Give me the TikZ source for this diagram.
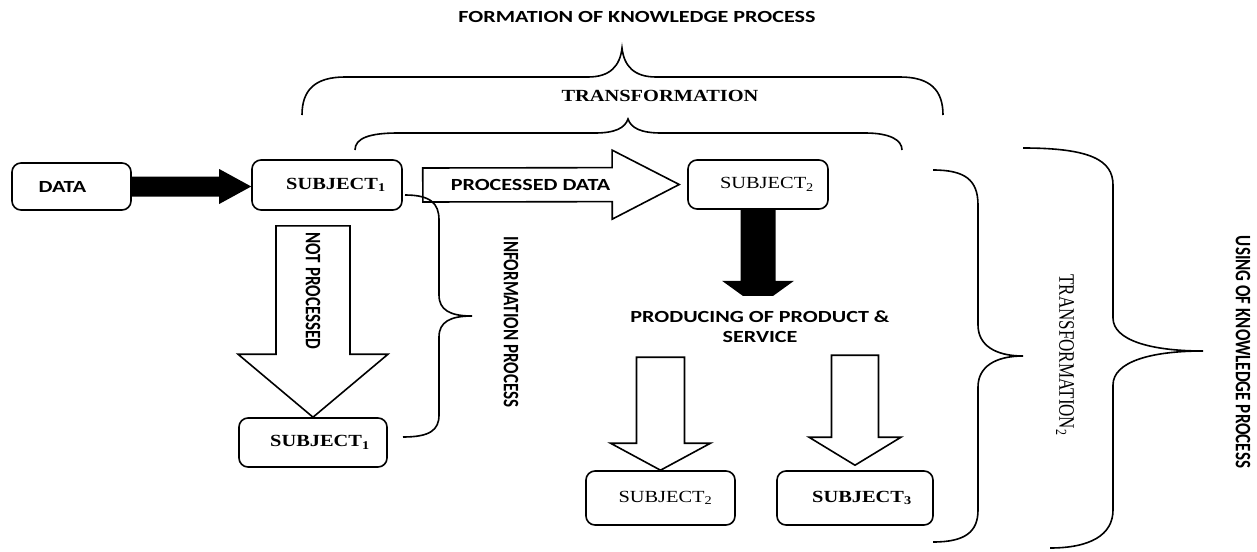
\documentclass[tikz,border=0pt]{standalone}
\usepackage{fontspec}
\setmainfont{Liberation Serif}
\newfontfamily\calibfont{Carlito}
\usetikzlibrary{calc}
\newcommand{\wide}[2][1.3]{\scalebox{#1}[1]{#2}}
\newcommand{\tall}[1]{\scalebox{1}[1.3]{#1}}
% #1 style, #2 tail, #3 tip, #4 half shaft, #5 half head, #6 head length
\newcommand{\blockarrow}[6]{%
  \path[#1] ($(#2)!#4!90:(#3)$)
    -- ($($(#3)!#6!(#2)$)!#4!90:(#3)$)
    -- ($($(#3)!#6!(#2)$)!#5!90:(#3)$)
    -- (#3)
    -- ($($(#3)!#6!(#2)$)!#5!-90:(#3)$)
    -- ($($(#3)!#6!(#2)$)!#4!-90:(#3)$)
    -- ($(#2)!#4!-90:(#3)$) -- cycle;}

\begin{document}
\begin{tikzpicture}[x=1pt, y=-1pt,
  box/.style={draw, line width=1.6pt, rounded corners=9pt, inner sep=0pt},
  sans/.style={font=\calibfont\bfseries\fontsize{17}{20}\selectfont},
  serif/.style={font=\fontsize{17}{20}\selectfont},
  hollow/.style={draw, fill=white, line width=1.6pt, line join=miter},
  blackarrow/.style={fill=black},
  curly/.style={draw, line width=1.6pt}]
\useasboundingbox (0,0) rectangle (1257,551);

\node[box, sans, minimum width=119pt, minimum height=47pt] (data) at (71.5,186.5) {\wide{DATA}\hspace*{18pt}};
\node[box, serif, minimum width=150pt, minimum height=50pt] (subjA) at (327,185) {\hspace*{18pt}\wide[1.2]{\textbf{SUBJECT\textsubscript{1}}}};
\node[box, serif, minimum width=140pt, minimum height=49pt] (subjB) at (758,184.5) {\hspace*{18pt}\wide[1.2]{SUBJECT\textsubscript{2}}};
\node[box, serif, minimum width=148pt, minimum height=49pt] (subjC) at (313,442.5) {\hspace*{14pt}\wide[1.2]{\textbf{SUBJECT\textsubscript{1}}}};
\node[box, serif, minimum width=149pt, minimum height=54pt] (subjD) at (660.5,498) {\hspace*{10pt}\wide[1.2]{SUBJECT\textsubscript{2}}};
\node[box, serif, minimum width=156pt, minimum height=54pt] (subjE) at (855,498) {\hspace*{14pt}\wide[1.2]{\textbf{SUBJECT\textsubscript{3}}}};

\coordinate (dataTip) at (data.east -| subjA.west);
\blockarrow{blackarrow}{data.east}{dataTip}{10pt}{17.5pt}{32pt}

\coordinate (procTail) at ($(subjA.east)+(20,0)$);
\coordinate (procTip) at ($(subjB.west)+(-8,0)$);
\blockarrow{hollow}{procTail}{procTip}{17pt}{34.5pt}{67pt}
\node[sans] (procText) at ($(procTail)!0.42!(procTip)$) {\wide{PROCESSED DATA}};

\coordinate (npTail) at ($(subjA.south -| subjC.north)+(0,15)$);
\blockarrow{hollow}{npTail}{subjC.north}{37pt}{75pt}{63pt}
\node[sans, rotate=-90] (npText) at ($(npTail)!0.34!(subjC.north)$) {\tall{NOT PROCESSED}};

\coordinate (prodTip) at ($(subjB.south)+(0,97)$);
\blockarrow{blackarrow}{subjB.south}{prodTip}{17.5pt}{36pt}{26pt}
\node[sans, align=center, fill=white, inner ysep=15pt] (prod) at (760,327)
  {\wide{PRODUCING OF PRODUCT \&}\\\wide{SERVICE}};

\coordinate (leftTail) at ($(subjD.north)+(0,-113)$);
\blockarrow{hollow}{leftTail}{subjD.north}{24pt}{50pt}{27pt}
\coordinate (rightTail) at ($(subjE.north)+(0,-115)$);
\coordinate (rightTip) at ($(subjE.north)+(0,-5)$);
\blockarrow{hollow}{rightTail}{rightTip}{23.5pt}{46pt}{28pt}

\node[sans] (formation) at (637,17) {\wide{FORMATION OF KNOWLEDGE PROCESS}};
\node[serif] (transf) at (660,96) {\wide[1.2]{\textbf{TRANSFORMATION}}};
\node[sans, rotate=-90] (info) at (511,322) {\tall{INFORMATION PROCESS}};
\node[serif, rotate=-90] (transfB) at (1065,355) {\tall{TRANSFORMATION\textsubscript{2}}};
\node[sans, rotate=-90] (using) at (1243,352) {\tall{USING OF KNOWLEDGE PROCESS}};

% braces
\path[curly] (302,115) .. controls (302,90) and (315,77) .. (345,77) -- (588,77)
  .. controls (610,77) and (620,66) .. (622,48) .. controls (624,66) and (634,77) .. (656,77)
  -- (900,77) .. controls (930,77) and (943,90) .. (943,115);
\path[curly] (355,150) .. controls (355,138) and (370,133) .. (398,133) -- (595,133)
  .. controls (615,133) and (625,128) .. (628,119) .. controls (631,128) and (641,133) .. (661,133)
  -- (865,133) .. controls (890,133) and (902,140) .. (902,150);
\path[curly] (405,195) .. controls (430,195) and (439,203) .. (439,220) -- (439,295)
  .. controls (439,310) and (450,316) .. (472,316) .. controls (450,316) and (439,322) .. (439,337)
  -- (439,415) .. controls (439,430) and (430,437) .. (403,437);
\path[curly] (933,170) .. controls (965,170) and (978,180) .. (978,205) -- (978,325)
  .. controls (978,345) and (995,356) .. (1023,356) .. controls (995,356) and (978,367) .. (978,387)
  -- (978,510) .. controls (978,532) and (965,542) .. (933,542);
\path[curly] (1023,148) .. controls (1090,148) and (1113,160) .. (1113,185) -- (1113,318)
  .. controls (1113,340) and (1150,351) .. (1203,351) .. controls (1150,351) and (1113,362) .. (1113,385)
  -- (1113,510) .. controls (1113,535) and (1090,548) .. (1050,548);
\end{tikzpicture}
\end{document}
